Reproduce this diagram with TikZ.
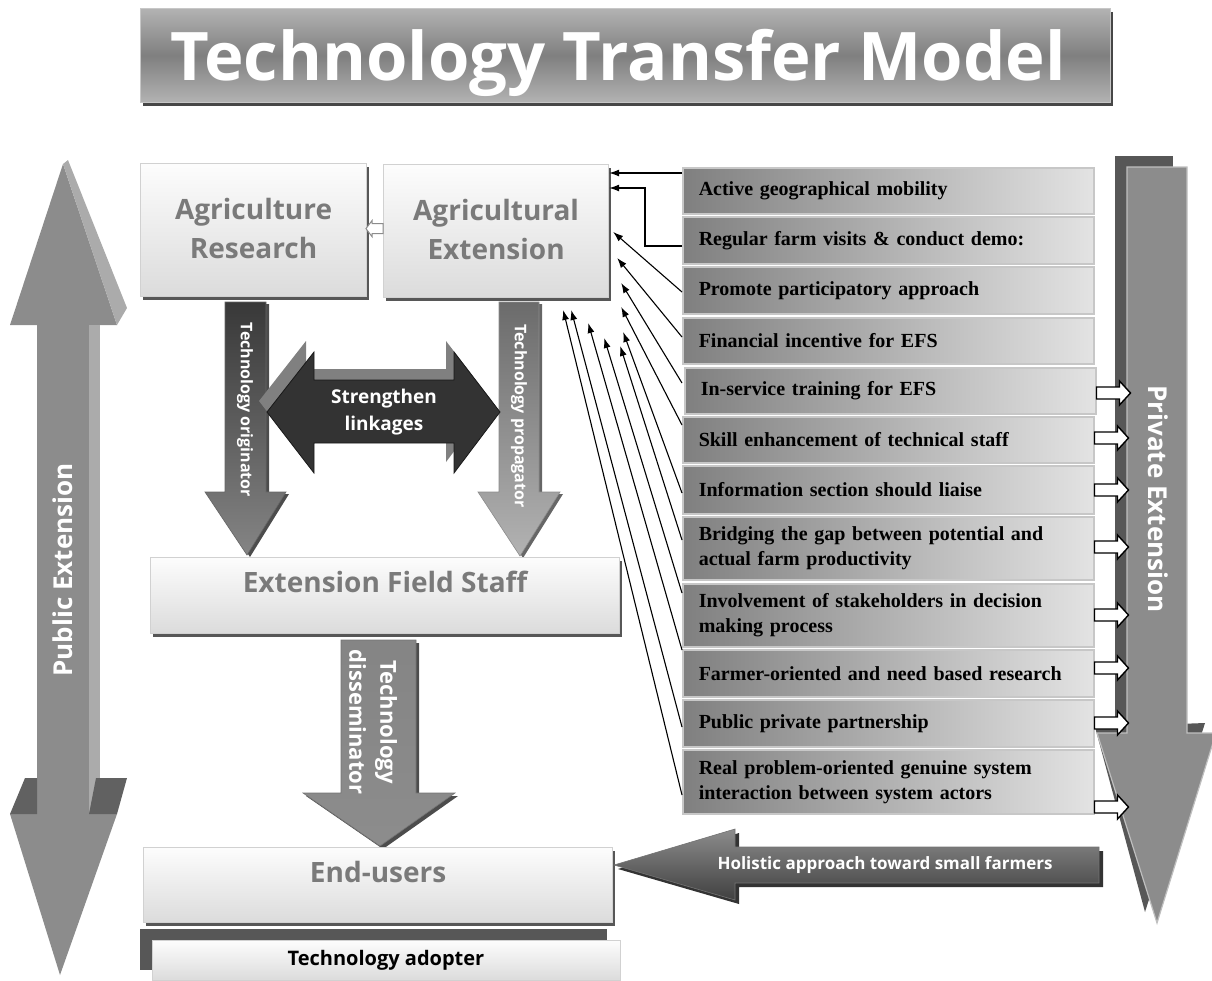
\documentclass[tikz,border=0pt]{standalone}
\usepackage{fontspec}
\newfontfamily\osans{Open Sans}
\newfontfamily\tmsr{Liberation Serif}
\usetikzlibrary{arrows.meta,calc}
\hyphenpenalty=10000
\exhyphenpenalty=10000
\begin{document}
\begin{tikzpicture}[x=1pt,y=-1pt,
  shadowc/.style={fill=black!66},
  lbox/.style={draw=black!18, line width=1.2, top color=black!1, bottom color=black!14, anchor=north west, inner sep=0},
  headtxt/.style={font=\osans\bfseries\fontsize{28}{39}\selectfont, text=black!52, align=center},
  rbox/.style={draw=black!22, line width=1.5, left color=black!50, right color=black!11, anchor=north west,
     text width=379pt, inner xsep=16pt, inner ysep=0pt, align=left,
     font=\tmsr\bfseries\fontsize{20}{25}\selectfont},
  conn/.style={draw=black, line width=1.1, -{Latex[length=10pt,width=7pt]}},
  hollowst/.style={draw=black, line width=1.4, fill=white},
  whitetxt/.style={text=white, font=\osans\bfseries},
]
\useasboundingbox (0,0) rectangle (1212,980);

% ---------- Title ----------
\fill[black!72] (143,12) rectangle (1113,106);
\node[anchor=north west, minimum width=970pt, minimum height=94pt, inner sep=0,
      draw=black!22, line width=1, top color=black!30, bottom color=black!30, middle color=black!50] (tbox) at (140,8) {};
\node[anchor=base, whitetxt, font=\osans\bfseries\fontsize{67}{80}\selectfont] (title) at (618,80) {Technology Transfer Model};

% ---------- Public Extension (left double arrow) ----------
\fill[black!45] (63,164) -- (117,325) -- (89,325) -- (89,814) -- (117,814) -- (60,975) -- (10,814) -- (37,814) -- (37,325) -- (10,325) -- cycle;
\fill[black!33] (89,325) rectangle (100,814);
\fill[black!33] (63,164) -- (68,160) -- (127,308) -- (117,325) -- cycle;
\fill[black!62] (10,814) -- (25,778) -- (37,778) -- (37,814) -- cycle;
\fill[black!62] (89,814) -- (96,778) -- (127,778) -- (117,814) -- cycle;
\node[rotate=90, whitetxt, font=\osans\bfseries\fontsize{26}{30}\selectfont] (pubtxt) at (63,570) {Public Extension};

% ---------- Private Extension (right down arrow) ----------
\fill[black!66] (1115,156) rectangle (1173,726);
\fill[black!66] (1095,727) -- (1205,723) -- (1145,912) -- cycle;
\fill[black!45, draw=black!25, line width=1.2] (1127,167) -- (1187,167) -- (1187,733) -- (1216,733) -- (1157,923) -- (1097,733) -- (1127,733) -- cycle;
\node[rotate=-90, whitetxt, font=\osans\bfseries\fontsize{26}{30}\selectfont] (privtxt) at (1158,499) {Private Extension};

% ---------- Upper boxes ----------
\fill[shadowc] (143,167) rectangle (369,300);
\node[lbox, minimum width=226pt, minimum height=133pt] (res) at (140,163) {};
\fill[shadowc] (386,168) rectangle (611,301);
\node[lbox, minimum width=225pt, minimum height=133pt] (ext) at (383,164) {};
\node[headtxt] (restxt) at ($(res.center)+(0,-2)$) {Agriculture\\Research};
\node[headtxt] (exttxt) at ($(ext.center)+(0,-2)$) {Agricultural\\Extension};
% small hollow arrow ext -> res
\draw[draw=black!45, fill=white, line width=1] ($(ext.west)+(0,-7.5)$) -- ++(-11,0) -- ++(0,-3) -- ++(-6,8) -- ++(6,8) -- ++(0,-3) -- ++(11,0) -- cycle;

% ---------- Technology originator / propagator ----------
\fill[black!70] (228,304) -- (269,304) -- (269,494) -- (289,494) -- (250,557) -- (208,494) -- (228,494) -- cycle;
\shade[top color=black!78, bottom color=black!48, draw=black!60, line width=0.6] (225,302) -- (266,302) -- (266,492) -- (286,492) -- (247,555) -- (205,492) -- (225,492) -- cycle;
\node[rotate=-90, whitetxt, font=\osans\bfseries\fontsize{16}{19}\selectfont] (origtxt) at (245,410) {Technology originator};

\fill[black!60] (502,304) -- (542,304) -- (542,494) -- (563,494) -- (523,558) -- (481,494) -- (502,494) -- cycle;
\shade[top color=black!58, bottom color=black!30, draw=black!45, line width=0.6] (499,302) -- (539,302) -- (539,492) -- (560,492) -- (520,556) -- (478,492) -- (499,492) -- cycle;
\node[rotate=-90, whitetxt, font=\osans\bfseries\fontsize{16}{19}\selectfont] (proptxt) at (519,416) {Technology propagator};

% ---------- Strengthen linkages ----------
\fill[black!50, shift={(-8,-11)}] (267,412) -- (314,352) -- (314,380) -- (454,380) -- (454,352) -- (500,412) -- (454,473) -- (454,443) -- (314,443) -- (314,473) -- cycle;
\fill[black!80, draw=black!90, line width=0.8] (267,412) -- (314,352) -- (314,380) -- (454,380) -- (454,352) -- (500,412) -- (454,473) -- (454,443) -- (314,443) -- (314,473) -- cycle;
\node[whitetxt, align=center, font=\osans\bfseries\fontsize{19}{27}\selectfont] (strtxt) at (384,412) {Strengthen\\linkages};

% ---------- Extension Field Staff ----------
\fill[shadowc] (153,561) rectangle (622,637);
\node[lbox, minimum width=469pt, minimum height=76pt] (efs) at (150,557) {};
\node[headtxt] (efstxt) at ($(efs.north)+(0,25)$) {Extension Field Staff};

% ---------- Technology disseminator ----------
\fill[black!70] (344,643) -- (419,643) -- (419,796) -- (458,796) -- (383,849) -- (306,796) -- (344,796) -- cycle;
\shade[top color=black!48, middle color=black!72, bottom color=black!45, draw=black!55, line width=0.6] (341,640) -- (416,640) -- (416,793) -- (455,793) -- (380,846) -- (303,793) -- (341,793) -- cycle;
\node[rotate=-90, whitetxt, align=center, font=\osans\bfseries\fontsize{22}{31}\selectfont] (distxt) at (373,722) {Technology\\disseminator};

% ---------- End-users ----------
\fill[shadowc] (146,851) rectangle (615,926);
\node[lbox, minimum width=469pt, minimum height=75pt] (eu) at (143,847) {};
\node[headtxt] (eutxt) at ($(eu.north)+(0,25)$) {End-users};

% ---------- Technology adopter ----------
\fill[black!66] (140,929) rectangle (607,970);
\node[lbox, minimum width=468pt, minimum height=40pt] (adopt) at (152,940) {};
\node[font=\osans\bfseries\fontsize{20}{24}\selectfont, text=black] (adopttxt) at (386,960) {Technology adopter};

% ---------- Holistic approach ----------
\fill[black!80] (618,869) -- (739,833) -- (739,851) -- (1103,851) -- (1103,887) -- (739,887) -- (739,904) -- cycle;
\shade[top color=black!45, bottom color=black!75, draw=black!55, line width=0.6] (614,865) -- (735,829) -- (735,847) -- (1099,847) -- (1099,883) -- (735,883) -- (735,900) -- cycle;
\node[whitetxt, font=\osans\bfseries\fontsize{17}{20}\selectfont] (holtxt) at (885,865) {Holistic approach toward small farmers};

% ---------- Right boxes ----------
\node[rbox, minimum height=46pt] (b1) at (682,167) {Active geographical mobility};
\node[rbox, minimum height=47pt] (b2) at (682,216) {Regular farm visits \& conduct demo:};
\node[rbox, minimum height=47pt] (b3) at (682,266) {Promote participatory approach};
\node[rbox, minimum height=46pt] (b4) at (682,317) {Financial incentive for EFS};
\node[rbox, minimum height=46pt] (b5) at (684,367) {In-service training for EFS};
\node[rbox, minimum height=46pt] (b6) at (682,416) {Skill enhancement of technical staff};
\node[rbox, minimum height=48pt] (b7) at (682,465) {Information section should liaise};
\node[rbox, minimum height=63pt] (b8) at (682,516) {Bridging the gap between potential and actual farm productivity};
\node[rbox, minimum height=63pt] (b9) at (682,583) {Involvement of stakeholders in decision making process};
\node[rbox, minimum height=47pt] (b10) at (682,649) {Farmer-oriented and need based research};
\node[rbox, minimum height=47pt] (b11) at (682,699) {Public private partnership};
\node[rbox, minimum height=64pt] (b12) at (682,749) {Real problem-oriented genuine system interaction between system actors};

% ---------- Connectors to Agricultural Extension ----------
\draw[conn] ($(b1.north west)+(0,6)$) -- ($(ext.north east)+(0,9)$);
\draw[conn] ($(b2.north west)+(0,30)$) -- ++(-37,0) |- ($(ext.north east)+(0,24)$);
\draw[conn] ($(b3.north west)+(0,26)$) -- ($(ext.north east)+(4,68)$);
\draw[conn] ($(b4.north west)+(0,20)$) -- ($(ext.north east)+(8,94)$);
\draw[conn] ($(b5.north west)+(-2,16)$) -- ($(ext.north east)+(12,119)$);
\draw[conn] ($(b6.north west)+(0,9)$) -- ($(ext.north east)+(12,143)$);
\draw[conn] ($(b7.north west)+(0,28)$) -- ($(ext.north east)+(14,168)$);
\draw[conn] ($(b8.north west)+(0,24)$) -- ($(ext.north east)+(11,182)$);
\draw[conn] ($(b9.north west)+(0,10)$) -- ($(ext.north east)+(-5,174)$);
\draw[conn] ($(b10.north west)+(0,1)$) -- ($(ext.north east)+(-21,159)$);
\draw[conn] ($(b11.north west)+(0,28)$) -- ($(ext.north east)+(-38,146)$);
\draw[conn] ($(b12.north west)+(0,46)$) -- ($(ext.north east)+(-46,146)$);

% ---------- Hollow arrows to Private Extension ----------
\foreach \b/\d in {b5/26,b6/22,b7/25,b8/31,b9/32,b10/19,b11/24,b12/58}{
  \draw[hollowst] ($(\b.north east)+(0,\d-6)$) -- ++(23,0) -- ++(0,-6) -- ++(11,12) -- ++(-11,12) -- ++(0,-6) -- ++(-23,0) -- cycle;
}
\end{tikzpicture}
\end{document}
